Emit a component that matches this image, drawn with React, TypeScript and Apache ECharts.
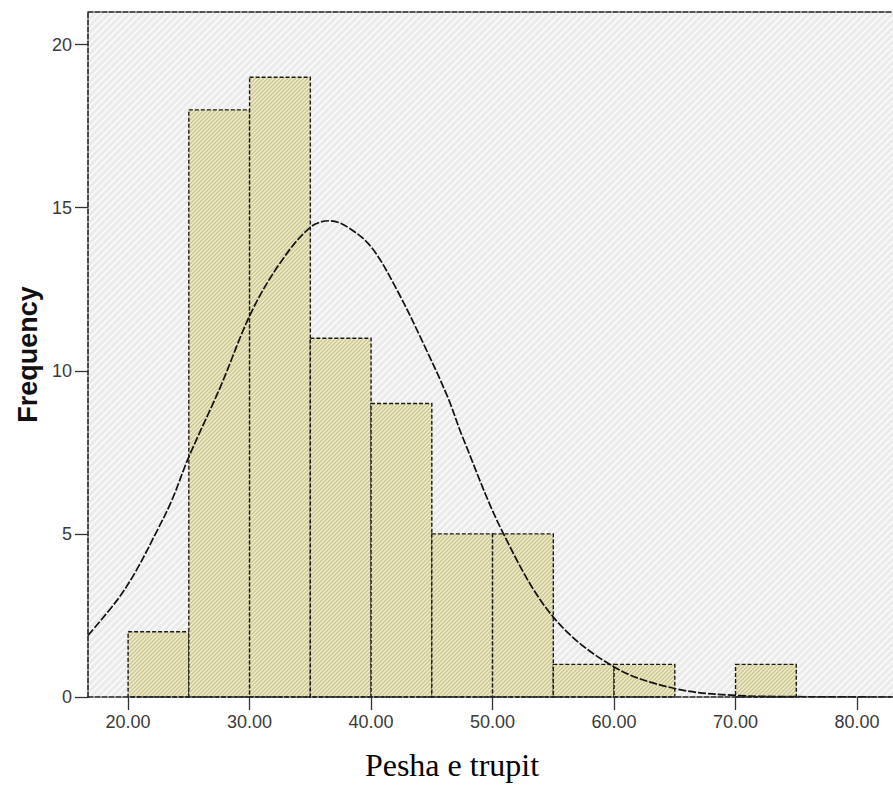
import React, { useEffect, useRef } from "react";
import * as echarts from "echarts";

// Histogram bins (lower edges), bin width and counts
const binStarts = [20, 25, 30, 35, 40, 45, 50, 55, 60, 65, 70];
const binWidth = 5;
const frequencies = [2, 18, 19, 11, 9, 5, 5, 1, 1, 0, 1];

// Normal curve, points
const curveX = [16.7, 19.1, 20.6, 22.4, 23.6, 25, 27.6, 30.1, 32.5, 35, 36.6, 38, 40, 42.1, 44.3, 46.3, 47.5, 50.9, 55, 60, 65, 70, 75, 83];
const curveY = [1.89, 2.97, 3.83, 5.11, 6.03, 7.36, 9.51, 11.76, 13.3, 14.4, 14.6, 14.42, 13.8, 12.5, 10.84, 9.2, 8.0, 5.0, 2.45, 0.92, 0.26, 0.05, 0.01, 0];

// Axis ticks
const xTickValues = [20, 30, 40, 50, 60, 70, 80];
const yTickValues = [0, 5, 10, 15, 20];

const xTitle = "Pesha e trupit";
const yTitle = "Frequency";

function makeStripes(size: number, bg: string, fg: string, lw: number) {
  const c = document.createElement("canvas");
  c.width = size;
  c.height = size;
  const g = c.getContext("2d")!;
  g.fillStyle = bg;
  g.fillRect(0, 0, size, size);
  g.strokeStyle = fg;
  g.lineWidth = lw;
  g.beginPath();
  for (let k = -1; k <= 1; k++) {
    g.moveTo(k * size - 1, size + 1);
    g.lineTo(k * size + size + 1, -1);
  }
  g.stroke();
  return c;
}

export default function App() {
  const ref = useRef<HTMLDivElement>(null);
  useEffect(() => {
    const chart = echarts.init(ref.current!, null, { renderer: "svg" });
    const bgPattern = {
      image: makeStripes(7, "#ebebeb", "#fafafa", 1.8),
      repeat: "repeat",
      imageWidth: 7,
      imageHeight: 7,
    };
    const barPattern = {
      image: makeStripes(4, "#d0cb91", "#f4f2df", 1.1),
      repeat: "repeat",
      imageWidth: 4,
      imageHeight: 4,
    };
    const axisDash = { color: "#1e1e1e", width: 1.6, type: [5, 2] as any };
    const labelStyle = {
      fontFamily: "Liberation Sans, Arial, sans-serif",
      fontSize: 18,
      color: "#3a3a3a",
    };
    chart.setOption({
      animation: false,
      grid: { left: 88, right: 0, top: 12, bottom: 94 },
      xAxis: [
        {
          type: "value",
          min: 16.7,
          max: 82.96,
          z: 10,
          axisLine: { show: true, onZero: false, lineStyle: axisDash },
          axisTick: { show: true, length: 13, customValues: xTickValues, lineStyle: { color: "#333", width: 1.3 } },
          axisLabel: {
            ...labelStyle,
            margin: 16,
            customValues: xTickValues,
            formatter: (v: number) => v.toFixed(2),
          },
          splitLine: { show: false },
          name: xTitle,
          nameLocation: "middle",
          nameGap: 52,
          nameTextStyle: {
            fontFamily: "Liberation Serif, Times New Roman, serif",
            fontSize: 32,
            color: "#000",
            padding: [0, 77, 0, 0],
          },
        },
        {
          type: "value",
          position: "top",
          min: 16.7,
          max: 82.96,
          z: 10,
          axisLine: { show: true, onZero: false, lineStyle: axisDash },
          axisTick: { show: false },
          axisLabel: { show: false },
          splitLine: { show: false },
        },
      ],
      yAxis: {
        type: "value",
        min: 0,
        max: 21,
        interval: 5,
        z: 10,
        axisLine: { show: true, lineStyle: axisDash },
        axisTick: { show: true, length: 13, customValues: yTickValues, lineStyle: { color: "#333", width: 1.3 } },
        axisLabel: { ...labelStyle, margin: 16, customValues: yTickValues },
        splitLine: { show: false },
        name: yTitle,
        nameLocation: "middle",
        nameGap: 45,
        nameRotate: 90,
        nameTextStyle: {
          fontFamily: "Liberation Sans, Arial, sans-serif",
          fontSize: 27,
          fontWeight: "bold",
          color: "#111",
        },
      },
      series: [
        {
          type: "custom",
          name: "background",
          z: 1,
          silent: true,
          data: [[50, 10]],
          renderItem: (params: any) => ({
            type: "rect",
            shape: {
              x: params.coordSys.x,
              y: params.coordSys.y,
              width: params.coordSys.width,
              height: params.coordSys.height,
            },
            style: { fill: bgPattern },
          }),
        },
        {
          type: "custom",
          name: "Frequency",
          z: 2,
          data: binStarts.map((s, i) => [s, s + binWidth, frequencies[i]]),
          renderItem: (params: any, api: any) => {
            const count = api.value(2);
            if (!count) return null;
            const p0 = api.coord([api.value(0), count]);
            const p1 = api.coord([api.value(1), 0]);
            return {
              type: "rect",
              shape: { x: p0[0], y: p0[1], width: p1[0] - p0[0], height: p1[1] - p0[1] },
              style: { fill: barPattern, stroke: "#1a1a1a", lineWidth: 1.4, lineDash: [4, 2] },
            };
          },
        },
        {
          type: "line",
          name: "Normal",
          z: 3,
          smooth: 0.35,
          showSymbol: false,
          data: curveX.map((x, i) => [x, curveY[i]]),
          lineStyle: { color: "#111", width: 1.7, type: [8, 2] },
        },
      ],
    });
    return () => chart.dispose();
  }, []);
  return (
    <div
      ref={ref}
      style={{ position: "fixed", left: 0, top: 0, width: 893, height: 791, background: "#fff" }}
    />
  );
}
